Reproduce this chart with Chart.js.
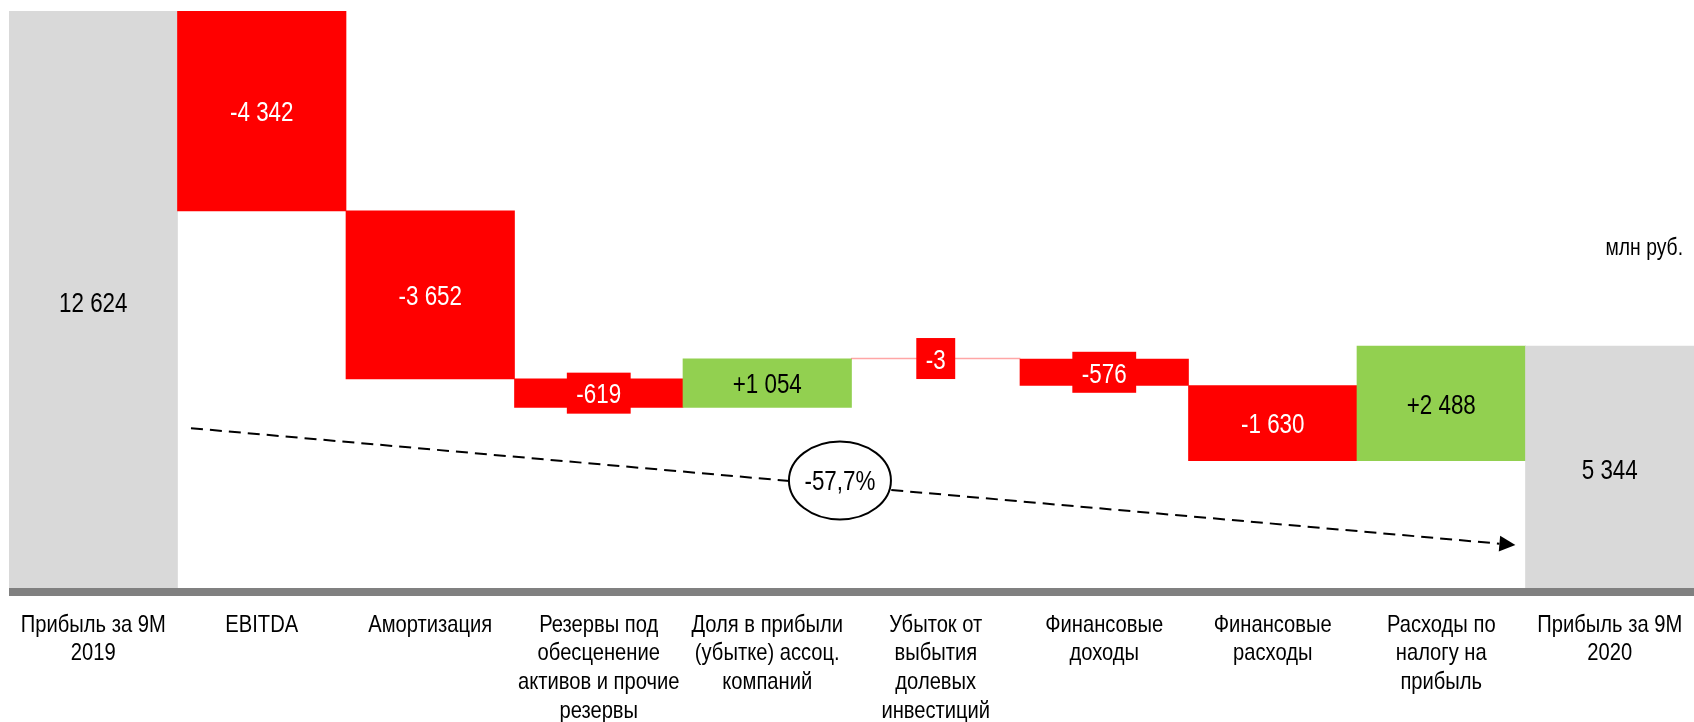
<!DOCTYPE html>
<html lang="ru">
<head>
<meta charset="utf-8">
<title>Прибыль за 9М 2019 – 9М 2020</title>
<script src="https://cdn.jsdelivr.net/npm/chart.js@4.4.1/dist/chart.umd.min.js"></script>
<style>
  html, body { margin: 0; padding: 0; background: #fff; }
  #wrap { width: 1694px; height: 722px; }
</style>
</head>
<body>
<div id="wrap"><canvas id="waterfall" width="1694" height="722"></canvas></div>
<script>
// Data (млн руб.)
const categories = [
  ['Прибыль за 9М', '2019'],
  ['EBITDA'],
  ['Амортизация'],
  ['Резервы под', 'обесценение', 'активов и прочие', 'резервы'],
  ['Доля в прибыли', '(убытке) ассоц.', 'компаний'],
  ['Убыток от', 'выбытия', 'долевых', 'инвестиций'],
  ['Финансовые', 'доходы'],
  ['Финансовые', 'расходы'],
  ['Расходы по', 'налогу на', 'прибыль'],
  ['Прибыль за 9М', '2020']
];
const startValue = 12624;
const changes = [-4342, -3652, -619, 1054, -3, -576, -1630, 2488];
const endValue = 5344;
const totalChange = '-57,7%';
const unitLabel = 'млн руб.';

// no Arial Narrow here, so squeeze Liberation Sans (same metrics as Arial)
const FONT = "'Liberation Sans', Arial, sans-serif";
const GREY = '#d9d9d9';
const RED = '#ff0000';
const GREEN = '#92d050';

// floating bars: [bottom, top] for every step
const ranges = [[0, startValue]];
let level = startValue;
changes.forEach(d => {
  ranges.push([level, level + d]);
  level += d;
});
ranges.push([0, endValue]);

const amounts = [startValue, ...changes, endValue];
const lastIdx = amounts.length - 1;

function fmt(n) {
  return Math.abs(n).toString().replace(/\B(?=(\d{3})+(?!\d))/g, ' ');
}
const labelTexts = amounts.map((v, i) => {
  if (i === 0 || i === lastIdx) return fmt(v);
  return (v < 0 ? '-' : '+') + fmt(v);
});
function barColor(i) {
  if (i === 0 || i === lastIdx) return GREY;
  return amounts[i] < 0 ? RED : GREEN;
}

function narrowText(ctx, txt, x, y, size, squeeze, color, align) {
  ctx.save();
  ctx.font = size + 'px ' + FONT;
  ctx.fillStyle = color;
  ctx.textAlign = align || 'center';
  ctx.textBaseline = 'middle';
  ctx.translate(x, y);
  ctx.scale(squeeze, 1);
  ctx.fillText(txt, 0, 0);
  ctx.restore();
}
function narrowWidth(ctx, txt, size, squeeze) {
  ctx.save();
  ctx.font = size + 'px ' + FONT;
  const w = ctx.measureText(txt).width * squeeze;
  ctx.restore();
  return w;
}

// labels, axis line, trend arrow
const overlay = {
  id: 'overlay',
  afterDatasetsDraw(chart) {
    const ctx = chart.ctx;
    const area = chart.chartArea;
    const xs = chart.scales.x;
    const ys = chart.scales.y;
    ctx.save();

    // thick base line
    ctx.fillStyle = '#808080';
    ctx.fillRect(area.left, area.bottom - 4, chart.width - area.left, 8);

    // category labels under the base line
    categories.forEach((lines, i) => {
      const x = xs.getPixelForValue(i);
      lines.forEach((ln, k) => {
        narrowText(ctx, ln, x, area.bottom + 33 + k * 28.8, 24, 0.84, '#000');
      });
    });

    // dashed trend arrow from first to last bar
    const x1 = xs.getPixelForValue(0.58), y1 = ys.getPixelForValue(3560);
    const x2 = xs.getPixelForValue(8.44), y2 = ys.getPixelForValue(1020);
    const ang = Math.atan2(y2 - y1, x2 - x1);
    const head = 16;
    ctx.strokeStyle = '#000';
    ctx.lineWidth = 2;
    ctx.setLineDash([12, 7]);
    ctx.beginPath();
    ctx.moveTo(x1, y1);
    ctx.lineTo(x2 - head * Math.cos(ang), y2 - head * Math.sin(ang));
    ctx.stroke();
    ctx.setLineDash([]);
    ctx.fillStyle = '#000';
    ctx.beginPath();
    ctx.moveTo(x2, y2);
    ctx.lineTo(x2 - head * Math.cos(ang) + 8 * Math.sin(ang), y2 - head * Math.sin(ang) - 8 * Math.cos(ang));
    ctx.lineTo(x2 - head * Math.cos(ang) - 8 * Math.sin(ang), y2 - head * Math.sin(ang) + 8 * Math.cos(ang));
    ctx.closePath();
    ctx.fill();

    // circled total change
    const t = 0.49;
    const cx = x1 + (x2 - x1) * t;
    const cy = y1 + (y2 - y1) * t - 5;
    ctx.beginPath();
    ctx.ellipse(cx, cy, 51, 39, 0, 0, Math.PI * 2);
    ctx.fillStyle = '#fff';
    ctx.fill();
    ctx.lineWidth = 2;
    ctx.stroke();
    narrowText(ctx, totalChange, cx, cy + 2, 28, 0.8, '#000');

    // unit note
    narrowText(ctx, unitLabel, chart.width - 11, 249, 23, 0.84, '#000', 'right');

    // value labels
    const meta = chart.getDatasetMeta(0);
    meta.data.forEach((bar, i) => {
      const p = bar.getProps(['x', 'y', 'base'], true);
      const my = (p.y + p.base) / 2;
      const txt = labelTexts[i];
      let color = '#000';
      if (barColor(i) === RED) {
        const w = narrowWidth(ctx, txt, 28, 0.8) + 19;
        ctx.fillStyle = RED;
        ctx.fillRect(p.x - w / 2, my - 20.5, w, 41);
        color = '#fff';
      }
      narrowText(ctx, txt, p.x, my + 2.5, 28, 0.8, color);
    });
    ctx.restore();
  }
};

const chart = new Chart(document.getElementById('waterfall'), {
  type: 'bar',
  data: {
    labels: categories,
    datasets: [{
      data: ranges,
      backgroundColor: ctx => {
        const i = ctx.dataIndex;
        if (Math.abs(amounts[i]) < 10) return 'rgba(255,0,0,0.35)';
        return barColor(i);
      },
      borderWidth: 0,
      barPercentage: 1,
      categoryPercentage: 1,
      minBarLength: 1
    }]
  },
  options: {
    responsive: false,
    animation: false,
    layout: { padding: { left: 9, right: 0, top: 11, bottom: 130 } },
    plugins: {
      legend: { display: false },
      tooltip: { enabled: false }
    },
    scales: {
      x: { display: false },
      y: {
        display: false,
        min: 0,
        max: startValue
      }
    }
  },
  plugins: [overlay]
});
</script>
</body>
</html>
